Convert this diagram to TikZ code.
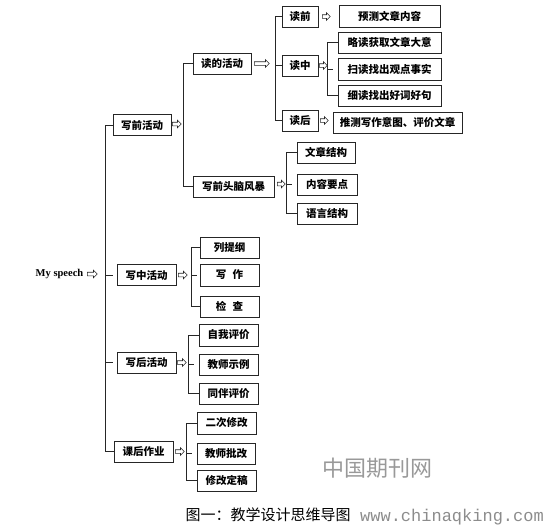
\documentclass[tikz,border=0pt]{standalone}
\usepackage{fontspec}
\setmainfont{Liberation Serif}
\newfontfamily\cjk{Noto Sans CJK SC}
\newfontfamily\wmfont{Liberation Mono}
\usepackage{tikz}
\usetikzlibrary{shapes.arrows, calc}
\tikzstyle{box} = [draw=black!85, line width=0.9pt, minimum height=21pt, inner sep=1pt, text centered, font=\cjk\bfseries\fontsize{10.5}{12}\selectfont]
\tikzstyle{link} = [line width=0.8pt, black!85]
\tikzstyle{harrow} = [single arrow, draw=black!85, line width=0.6pt, fill=white, minimum height=9pt, text height=1.2pt, text depth=1.2pt, inner sep=0.3pt, single arrow head extend=2pt, anchor=west]

\begin{document}
\begin{tikzpicture}[x=1pt, y=-1pt]
    \useasboundingbox (0,0) rectangle (544,528);

    % Root
    \node (root) at (59.5,274) [font=\bfseries\fontsize{10.5}{12}\selectfont] {My speech};
    \node (a0) at (87,274) [harrow, minimum height=10pt] {};

    % Writing stages
    \node (w1) at (142,125) [box, minimum width=58pt] {写前活动};
    \node (w2) at (146.5,275) [box, minimum width=59pt] {写中活动};
    \node (w3) at (146.5,362.5) [box, minimum width=59pt] {写后活动};
    \node (w4) at (143.5,451.5) [box, minimum width=59pt] {课后作业};

    % Before writing
    \node (r1) at (222,63.5) [box, minimum width=58pt] {读的活动};
    \node (r2) at (233.5,186.5) [box, minimum width=81pt] {写前头脑风暴};
    \node (p1) at (300,16.5) [box, minimum width=36pt] {读前};
    \node (p2) at (300,65.5) [box, minimum width=36pt] {读中};
    \node (p3) at (300,120.5) [box, minimum width=36pt] {读后};
    \node (q1) at (389.5,16) [box, minimum width=101pt, minimum height=22pt] {预测文章内容};
    \node (q2) at (389.5,42.5) [box, minimum width=103pt] {略读获取文章大意};
    \node (q3) at (389.5,69) [box, minimum width=103pt, minimum height=22pt] {扫读找出观点事实};
    \node (q4) at (389.5,95.5) [box, minimum width=103pt] {细读找出好词好句};
    \node (q5) at (397.5,122.5) [box, minimum width=129pt] {推测写作意图、评价文章};
    \node (s1) at (326,152.5) [box, minimum width=58pt] {文章结构};
    \node (s2) at (327,184.5) [box, minimum width=60pt] {内容要点};
    \node (s3) at (327,213.5) [box, minimum width=60pt] {语言结构};

    % While writing
    \node (t1) at (229.5,247.5) [box, minimum width=59pt] {列提纲};
    \node (t2) at (229.5,275) [box, minimum width=59pt, minimum height=22pt] {写\hspace{0.6em}作};
    \node (t3) at (229.5,306.5) [box, minimum width=59pt] {检\hspace{0.6em}查};

    % After writing
    \node (u1) at (228.5,335) [box, minimum width=59pt, minimum height=22pt] {自我评价};
    \node (u2) at (228.5,364.5) [box, minimum width=59pt] {教师示例};
    \node (u3) at (228.5,393.5) [box, minimum width=59pt] {同伴评价};

    % Homework
    \node (v1) at (226.5,423) [box, minimum width=59pt, minimum height=22pt] {二次修改};
    \node (v2) at (226,453.5) [box, minimum width=58pt] {教师批改};
    \node (v3) at (226.5,480.5) [box, minimum width=59pt] {修改定稿};

    % Arrows
    \node (aw1) at (172,124) [harrow] {};
    \node (aw2) at (178,275) [harrow] {};
    \node (aw3) at (177,362.5) [harrow] {};
    \node (aw4) at (175,451.5) [harrow] {};
    \node (ar1) at (254,63.5) [harrow, minimum height=15pt] {};
    \node (ar2) at (277,184) [harrow, minimum height=8pt] {};
    \node (ap1) at (322,16.5) [harrow, minimum height=8pt] {};
    \node (ap2) at (319,65.5) [harrow, minimum height=8pt] {};
    \node (ap3) at (320,120.5) [harrow, minimum height=8pt] {};

    % Brackets
    \draw[link] (w1.west) -- ++(-7,0) |- (w4.west);
    \draw[link] ([xshift=-11pt]w2.west) -- ++(7,0);
    \draw[link] ([xshift=-11pt]w3.west) -- ++(7,0);
    \draw[link] (r1.west) -- ++(-9,0) |- (r2.west);
    \draw[link] (p1.west) -- ++(-6,0) |- (p3.west);
    \draw[link] (p2.west) -- ++(-6,0);
    \draw[link] (q2.west) -- ++(-10,0) |- (q4.west);
    \draw[link] ([xshift=-10pt]q3.west) -- ++(5,0);
    \draw[link] (s1.west) -- ++(-10,0) |- (s3.west);
    \draw[link] ([xshift=-10pt]s2.west) -- ++(5,0);
    \draw[link] (t1.west) -- ++(-8,0) |- (t3.west);
    \draw[link] ([xshift=-8pt]t2.west) -- ++(5,0);
    \draw[link] (u1.west) -- ++(-10,0) |- (u3.west);
    \draw[link] ([xshift=-10pt]u2.west) -- ++(5,0);
    \draw[link] (v1.west) -- ++(-10,0) |- (v3.west);
    \draw[link] ([xshift=-10pt]v2.west) -- ++(5,0);

    % Caption and watermark
    \node (cap) at (268,515) [font=\cjk\fontsize{15}{17}\selectfont] {图一：教学设计思维导图};
    \node (wm1) at (377,468) [font=\cjk\fontsize{22}{24}\selectfont, text=black!40] {中国期刊网};
    \node (wm2) at (452,517) [font=\wmfont\fontsize{17}{18}\selectfont, text=black!45] {www.chinaqking.com};
\end{tikzpicture}
\end{document}
